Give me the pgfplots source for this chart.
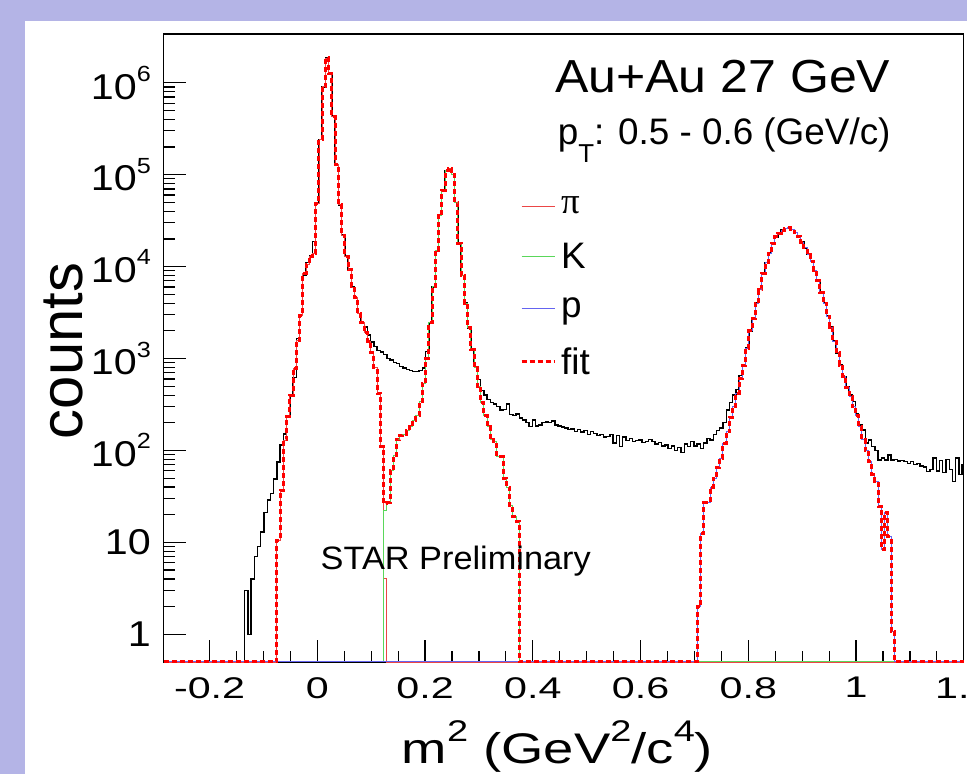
\documentclass[border=0pt]{standalone}
\usepackage{fontspec}
\setmainfont{Liberation Sans}
\newfontfamily\pifont{Liberation Serif}
\usepackage{graphicx}
\usepackage{pgfplots}
\usepackage{pgfplotstable}
\pgfplotsset{compat=1.18}
\definecolor{lav}{RGB}{180,180,230}
\definecolor{pired}{RGB}{235,70,70}
\definecolor{kgreen}{RGB}{90,215,90}
\definecolor{pblue}{RGB}{100,100,240}
\newcommand\fs[1]{\fontsize{#1}{#1}\selectfont}
\newcommand\xl[1]{\scalebox{1.38}[1]{#1}}
\newcommand\yl[1]{\scalebox{1.15}[1]{#1}}
\newcommand\ysup[1]{10\raisebox{0.5em}{\fs{22}#1}}
\newcommand\tsup[1]{\raisebox{0.5em}{\fs{30}#1}}

\pgfplotstableread{
x y
-0.285 0.5
-0.135 3
-0.129 1
-0.123 4
-0.117 7
-0.111 9
-0.105 13
-0.099 21
-0.093 29
-0.087 34
-0.081 49
-0.075 75
-0.069 115
-0.063 151
-0.057 230
-0.051 384
-0.045 620
-0.039 1650
-0.033 3000
-0.027 8000
-0.021 11000
-0.015 13000
-0.009 18700
-0.003 49000
0.003 240000
0.009 900000
0.015 1860000
0.021 1270000
0.027 430000
0.033 128000
0.039 47000
0.045 22000
0.051 13000
0.057 9200
0.063 6000
0.069 4600
0.075 3100
0.081 2450
0.087 2200
0.093 1800
0.099 1520
0.105 1350
0.111 1230
0.117 1180
0.123 1100
0.129 1000
0.135 960
0.141 900
0.147 880
0.153 815
0.159 790
0.165 760
0.171 740
0.177 720
0.183 720
0.189 740
0.195 790
0.201 1200
0.207 2450
0.213 6000
0.219 15000
0.225 36000
0.231 68000
0.237 110000
0.243 117000
0.249 100000
0.255 50000
0.261 18000
0.267 8000
0.273 4000
0.279 2150
0.285 1240
0.291 815
0.297 590
0.303 450
0.309 400
0.315 360
0.321 330
0.327 320
0.333 300
0.339 275
0.345 280
0.351 320
0.357 245
0.363 240
0.369 250
0.375 225
0.381 215
0.387 200
0.393 181
0.399 215
0.405 185
0.411 190
0.417 200
0.423 205
0.429 200
0.435 210
0.441 190
0.447 185
0.453 180
0.459 175
0.465 168
0.471 172
0.477 160
0.483 168
0.489 158
0.495 165
0.501 150
0.507 160
0.513 152
0.519 145
0.525 150
0.531 140
0.537 142
0.543 150
0.549 120
0.555 145
0.561 110
0.567 140
0.573 128
0.579 135
0.585 125
0.591 128
0.597 130
0.603 122
0.609 125
0.615 132
0.621 125
0.627 118
0.633 122
0.639 112
0.645 115
0.651 105
0.657 112
0.663 100
0.669 108
0.675 95
0.681 118
0.687 110
0.693 125
0.699 112
0.705 118
0.711 105
0.717 120
0.723 135
0.729 130
0.735 150
0.741 165
0.747 175
0.753 200
0.759 275
0.765 330
0.771 400
0.777 460
0.783 650
0.789 850
0.795 1300
0.801 2000
0.807 2700
0.813 4000
0.819 5600
0.825 8500
0.831 11000
0.837 14000
0.843 18000
0.849 21000
0.855 23000
0.861 25000
0.867 26000
0.873 26300
0.879 25500
0.885 23500
0.891 21500
0.897 18500
0.903 16000
0.909 13500
0.915 11500
0.921 9000
0.927 7000
0.933 5200
0.939 4000
0.945 2900
0.951 2200
0.957 1550
0.963 1150
0.969 850
0.975 640
0.981 500
0.987 400
0.993 340
0.999 253
1.005 190
1.011 167
1.017 120
1.023 130
1.029 110
1.035 100
1.041 79
1.047 83
1.053 79
1.059 89
1.065 79
1.071 80
1.077 77
1.083 78
1.089 76
1.095 72
1.101 76
1.107 70
1.113 72
1.119 68
1.125 66
1.131 59
1.137 62
1.143 83
1.149 60
1.155 78
1.161 58
1.167 80
1.173 62
1.179 46
1.185 83
1.191 55
1.197 70
1.2 70
}\datatab

\pgfplotstableread{
x y
-0.285 0.5
-0.075 10.6
-0.069 37
-0.063 130
-0.057 233
-0.051 401
-0.045 783
-0.039 1590
-0.033 2970
-0.027 8450
-0.021 10500
-0.015 12900
-0.009 13900
-0.003 49000
0.003 240000
0.009 900000
0.015 1860000
0.021 1270000
0.027 430000
0.033 128000
0.039 47000
0.045 22000
0.051 13000
0.057 9200
0.063 6000
0.069 4600
0.075 3100
0.081 2450
0.087 1900
0.093 1550
0.099 1150
0.105 800
0.111 420
0.117 110
0.123 4.1
0.129 0.5
1.2 0.5
}\pitab

\pgfplotstableread{
x y
-0.285 0.5
0.123 22.5
0.129 27
0.135 60
0.141 88
0.147 130
0.153 145
0.159 150
0.165 165
0.171 180
0.177 214
0.183 240
0.189 339
0.195 540
0.201 1000
0.207 2450
0.213 6000
0.219 15000
0.225 36000
0.231 68000
0.237 110000
0.243 117000
0.249 100000
0.255 50000
0.261 18000
0.267 8000
0.273 4000
0.279 2150
0.285 1240
0.291 790
0.297 500
0.303 330
0.309 240
0.315 180
0.321 130
0.327 125
0.333 86
0.339 86
0.345 50
0.351 40
0.357 25
0.363 19
0.369 17
0.375 0.5
1.2 0.5
}\ktab

\pgfplotstableread{
x y
-0.285 0.5
0.705 2
0.711 12.5
0.717 27
0.723 27
0.729 40
0.735 50
0.741 66
0.747 82
0.753 120
0.759 160
0.765 230
0.771 300
0.777 420
0.783 600
0.789 850
0.795 1300
0.801 2000
0.807 2700
0.813 4000
0.819 5600
0.825 8500
0.831 11000
0.837 14000
0.843 18000
0.849 21000
0.855 23000
0.861 25000
0.867 26000
0.873 26300
0.879 25500
0.885 23500
0.891 21500
0.897 18500
0.903 16000
0.909 13500
0.915 11500
0.921 9000
0.927 7000
0.933 5200
0.939 4000
0.945 2900
0.951 2200
0.957 1550
0.963 1150
0.969 850
0.975 640
0.981 480
0.987 390
0.993 300
0.999 240
1.005 180
1.011 130
1.017 100
1.023 76
1.029 55
1.035 46
1.041 24.5
1.047 8.3
1.053 21
1.059 11.6
1.065 1.07
1.071 0.5
1.2 0.5
}\ptab

\pgfplotstableread{
x y
-0.285 0.5
-0.075 10.6
-0.069 37
-0.063 130
-0.057 233
-0.051 401
-0.045 783
-0.039 1590
-0.033 2970
-0.027 8450
-0.021 10500
-0.015 12900
-0.009 13900
-0.003 49000
0.003 240000
0.009 900000
0.015 1860000
0.021 1270000
0.027 430000
0.033 128000
0.039 47000
0.045 22000
0.051 13000
0.057 9200
0.063 6000
0.069 4600
0.075 3100
0.081 2450
0.087 1900
0.093 1550
0.099 1150
0.105 800
0.111 420
0.117 110
0.123 26.6
0.129 27
0.135 60
0.141 88
0.147 130
0.153 145
0.159 150
0.165 165
0.171 180
0.177 214
0.183 240
0.189 339
0.195 540
0.201 1000
0.207 2450
0.213 6000
0.219 15000
0.225 36000
0.231 68000
0.237 110000
0.243 117000
0.249 100000
0.255 50000
0.261 18000
0.267 8000
0.273 4000
0.279 2150
0.285 1240
0.291 790
0.297 500
0.303 330
0.309 240
0.315 180
0.321 130
0.327 125
0.333 86
0.339 86
0.345 50
0.351 40
0.357 25
0.363 19
0.369 17
0.375 0.5
0.705 2
0.711 12.5
0.717 27
0.723 27
0.729 40
0.735 50
0.741 66
0.747 82
0.753 120
0.759 160
0.765 230
0.771 300
0.777 420
0.783 600
0.789 850
0.795 1300
0.801 2000
0.807 2700
0.813 4000
0.819 5600
0.825 8500
0.831 11000
0.837 14000
0.843 18000
0.849 21000
0.855 23000
0.861 25000
0.867 26000
0.873 26300
0.879 25500
0.885 23500
0.891 21500
0.897 18500
0.903 16000
0.909 13500
0.915 11500
0.921 9000
0.927 7000
0.933 5200
0.939 4000
0.945 2900
0.951 2200
0.957 1550
0.963 1150
0.969 850
0.975 640
0.981 480
0.987 390
0.993 300
0.999 240
1.005 180
1.011 130
1.017 100
1.023 76
1.029 55
1.035 46
1.041 24.5
1.047 8.3
1.053 21
1.059 11.6
1.065 1.07
1.071 0.5
1.2 0.5
}\fittab

\begin{document}
\begin{tikzpicture}
\useasboundingbox (0,0) rectangle (967bp,774bp);
\clip (0,0) rectangle (967bp,774bp);
\fill[lav] (0,0) rectangle (967bp,774bp);
\fill[white] (25bp,0) rectangle (967bp,753bp);
\begin{axis}[
  at={(163.8bp,112bp)}, anchor=south west,
  scale only axis, width=800bp, height=628bp,
  xmin=-0.285, xmax=1.2, ymode=log, ymin=0.5, ymax=3.39e6,
  axis line style={line width=1.3bp},
  tick style={line width=1.2bp, black},
  tick align=inside, tick pos=left,
  major tick length=22bp, minor tick length=11bp,
  xtick={-0.2,0,0.2,0.4,0.6,0.8,1,1.2},
  xticklabels={\xl{-0.2},\xl{0},\xl{0.2},\xl{0.4},\xl{0.6},\xl{0.8},\xl{1},\xl{1.2}},
  minor x tick num=3,
  ytick={1,10,100,1000,10000,100000,1000000},
  yticklabels={\yl{1},\yl{10},\yl{\ysup{2}},\yl{\ysup{3}},\yl{\ysup{4}},\yl{\ysup{5}},\yl{\ysup{6}}},
  xticklabel style={font=\fs{30}, anchor=north, inner sep=0pt, yshift=-15bp},
  yticklabel style={font=\fs{36}, anchor=east, inner sep=0pt, xshift=-12.8bp},
  clip=false,
  legend cell align=left,
  legend style={at={(axis description cs:0.4453,0.7409)}, anchor=north west,
    draw=none, fill=none, inner sep=0pt, row sep=28bp, column sep=5bp,
    font=\fs{37}, nodes={inner sep=0pt}},
  legend image code/.code={\draw[#1] (0bp,0bp) -- (33bp,0bp);},
]
\addplot[const plot, black, line width=1.4bp, forget plot] table {\datatab};
\addplot[const plot, pired, line width=0.9bp] table {\pitab};
\addlegendentry{{\pifont π}}
\addplot[const plot, kgreen, line width=1bp] table {\ktab};
\addlegendentry{K}
\addplot[const plot, pblue, line width=1bp] table {\ptab};
\addlegendentry{p}
\addplot[const plot, red, line width=3bp, dash pattern=on 5bp off 3bp] table {\fittab};
\addlegendentry{fit}
\end{axis}
\node[anchor=base west, inner sep=0pt, font=\fs{46.5}] at (555bp,681.3bp) {\scalebox{1.08}[1]{Au+Au 27 GeV}};
\node[anchor=base west, inner sep=0pt, font=\fs{37}] at (557.6bp,629bp) {p\raisebox{-0.48em}{\fs{26}T}: 0.5 - 0.6 (GeV/c)};
\node[anchor=base west, inner sep=0pt, font=\fs{32.5}] at (320.5bp,204bp) {\scalebox{1.06}[1]{STAR Preliminary}};
\node[anchor=base, inner sep=0pt, font=\fs{43}] at (557.5bp,10.7bp) {\scalebox{1.27}[1]{m\tsup{2} (GeV\tsup{2}/c\tsup{4})}};
\node[anchor=base, rotate=90, inner sep=0pt, font=\fs{60}] at (82bp,423bp) {counts};
\end{tikzpicture}
\end{document}
